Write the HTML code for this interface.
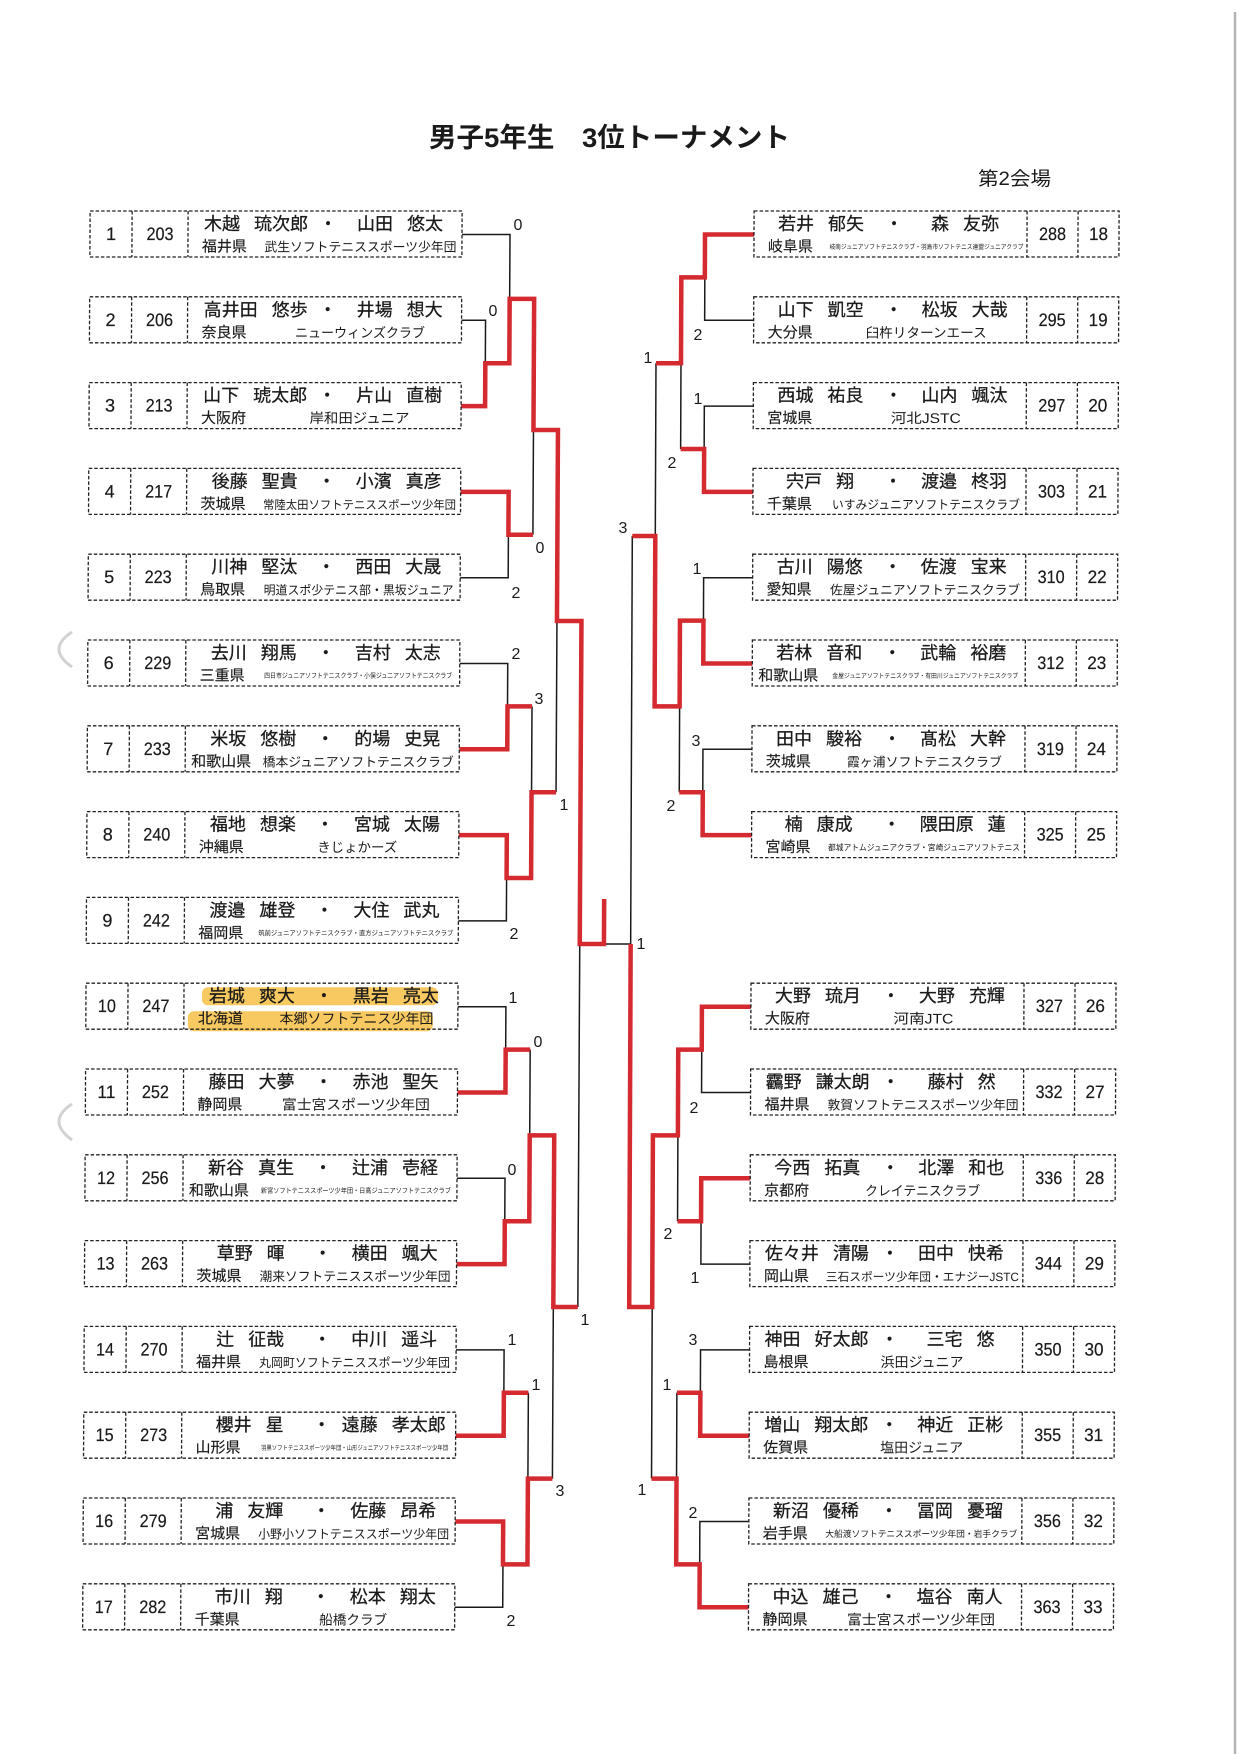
<!DOCTYPE html>
<html><head><meta charset="utf-8">
<style>
html,body{margin:0;padding:0;background:#fff}
svg{display:block}
.bx{fill:none;stroke:#222;stroke-width:1.3;stroke-dasharray:3.5 2}
.k{fill:none;stroke:#1a1a1a;stroke-width:1.5}
.r{fill:none;stroke:#d42a30;stroke-width:4.5;stroke-linejoin:miter}
.n{font-family:"Liberation Sans",sans-serif;font-size:18px;fill:#1a1a1a;text-anchor:middle;stroke:#1a1a1a;stroke-width:0.2}
.nm{font-family:"Liberation Sans","Noto Sans CJK JP",sans-serif;font-size:18px;fill:#1a1a1a;text-anchor:middle;stroke:#1a1a1a;stroke-width:0.25}
.g{font-size:14px}
.pf{font-family:"Liberation Sans","Noto Sans CJK JP",sans-serif;font-size:15px;fill:#1a1a1a;stroke:#1a1a1a;stroke-width:0.15}
.cl{font-family:"Liberation Sans","Noto Sans CJK JP",sans-serif;fill:#1a1a1a;text-anchor:middle}
.sc{font-family:"Liberation Sans",sans-serif;font-size:16px;fill:#1a1a1a;text-anchor:middle}
.ttl{font-family:"Liberation Sans","Noto Sans CJK JP",sans-serif;font-weight:bold;font-size:27px;fill:#1a1a1a}
.sub{font-family:"Liberation Sans","Noto Sans CJK JP",sans-serif;font-size:19px;fill:#1a1a1a}
</style></head>
<body>
<svg xmlns="http://www.w3.org/2000/svg" width="1240" height="1754" viewBox="0 0 1240 1754">
<rect x="0" y="0" width="1240" height="1754" fill="#fff"/>
<line x1="1235" y1="12" x2="1235" y2="1754" stroke="#b4b4b4" stroke-width="2.5"/>
<path d="M72 632 Q46 649 72 667" fill="none" stroke="#d2d2d2" stroke-width="3"/>
<path d="M72 1104 Q46 1121 72 1140" fill="none" stroke="#d2d2d2" stroke-width="3"/>

<text class="ttl" x="429" y="147" textLength="361" lengthAdjust="spacingAndGlyphs">男子5年生　3位トーナメント</text>
<text class="sub" x="978" y="185" textLength="73" lengthAdjust="spacingAndGlyphs">第2会場</text>

<!-- LEFT GROUP -->
<g transform="matrix(1,0,-0.0053,1,1.2455,0)">
<path class="k" d="M462 234.5H510V298.9"/>
<path class="k" d="M462 320.3H486V363.2"/>
<path class="k" d="M534.5 430V534.8"/>
<path class="k" d="M462 577.7H510V534.8"/>
<path class="k" d="M559 621V792.2"/>
<path class="k" d="M462 663.5H510V706.4"/>
<path class="k" d="M534.5 706.4V792.2"/>
<path class="k" d="M462 920.9H510V878"/>
<path class="k" d="M583.5 944V1307"/>
<path class="k" d="M607.7 944H634.5"/>
<path class="k" d="M462 1006.7H510V1049.6"/>
<path class="k" d="M534.5 1049.6V1135.4"/>
<path class="k" d="M462 1178.3H510V1221.2"/>
<path class="k" d="M559 1307V1478.6"/>
<path class="k" d="M462 1349.9H510V1392.8"/>
<path class="k" d="M534.5 1392.8V1478.6"/>
<path class="k" d="M462 1607.3H510V1564.4"/>
<path class="r" d="M462 406.1H486V363.2H510V298.9H534.5V430H559V621H583.5V944H607.7V899"/>
<path class="r" d="M462 491.9H510V534.8H534.5"/>
<path class="r" d="M462 749.3H510V706.4H534.5"/>
<path class="r" d="M462 835.1H510V878H534.5V792.2H559"/>
<path class="r" d="M462 1092.5H510V1049.6H534.5"/>
<path class="r" d="M462 1264.1H510V1221.2H534.5V1135.4H559V1307H583.5"/>
<path class="r" d="M462 1435.7H510V1392.8H534.5"/>
<path class="r" d="M462 1521.5H510V1564.4H534.5V1478.6H559"/>

<g transform="translate(0,211)">
<rect class="bx" x="90" y="0" width="372" height="46"/><path class="bx" d="M132 0V46M188 0V46"/>
<text class="n" x="111" y="29">1</text><text class="n" x="160" y="29" textLength="27" lengthAdjust="spacingAndGlyphs">203</text>
<text class="nm" x="256" y="19">木越<tspan class="g">　</tspan>琉次郎</text><text class="nm" x="328" y="19">・</text><text class="nm" x="400" y="19">山田<tspan class="g">　</tspan>悠太</text>
<text class="pf" x="202" y="40.5">福井県</text><text class="cl" x="360.5" y="40.5" font-size="13" textLength="192" lengthAdjust="spacingAndGlyphs">武生ソフトテニススポーツ少年団</text>
</g>
<g transform="translate(0,296.8)">
<rect class="bx" x="90" y="0" width="372" height="46"/><path class="bx" d="M132 0V46M188 0V46"/>
<text class="n" x="111" y="29">2</text><text class="n" x="160" y="29" textLength="27" lengthAdjust="spacingAndGlyphs">206</text>
<text class="nm" x="256" y="19">高井田<tspan class="g">　</tspan>悠歩</text><text class="nm" x="328" y="19">・</text><text class="nm" x="400" y="19">井場<tspan class="g">　</tspan>想大</text>
<text class="pf" x="202" y="40.5">奈良県</text><text class="cl" x="360.5" y="40.5" font-size="13.5" textLength="130" lengthAdjust="spacingAndGlyphs">ニューウィンズクラブ</text>
</g>
<g transform="translate(0,382.6)">
<rect class="bx" x="90" y="0" width="372" height="46"/><path class="bx" d="M132 0V46M188 0V46"/>
<text class="n" x="111" y="29">3</text><text class="n" x="160" y="29" textLength="27" lengthAdjust="spacingAndGlyphs">213</text>
<text class="nm" x="256" y="19">山下<tspan class="g">　</tspan>琥太郎</text><text class="nm" x="328" y="19">・</text><text class="nm" x="400" y="19">片山<tspan class="g">　</tspan>直樹</text>
<text class="pf" x="202" y="40.5">大阪府</text><text class="cl" x="360.5" y="40.5" font-size="14" textLength="100" lengthAdjust="spacingAndGlyphs">岸和田ジュニア</text>
</g>
<g transform="translate(0,468.4)">
<rect class="bx" x="90" y="0" width="372" height="46"/><path class="bx" d="M132 0V46M188 0V46"/>
<text class="n" x="111" y="29">4</text><text class="n" x="160" y="29" textLength="27" lengthAdjust="spacingAndGlyphs">217</text>
<text class="nm" x="256" y="19">後藤<tspan class="g">　</tspan>聖貴</text><text class="nm" x="328" y="19">・</text><text class="nm" x="400" y="19">小濱<tspan class="g">　</tspan>真彦</text>
<text class="pf" x="202" y="40.5">茨城県</text><text class="cl" x="361" y="40.5" font-size="12" textLength="193" lengthAdjust="spacingAndGlyphs">常陸太田ソフトテニススポーツ少年団</text>
</g>
<g transform="translate(0,554.2)">
<rect class="bx" x="90" y="0" width="372" height="46"/><path class="bx" d="M132 0V46M188 0V46"/>
<text class="n" x="111" y="29">5</text><text class="n" x="160" y="29" textLength="27" lengthAdjust="spacingAndGlyphs">223</text>
<text class="nm" x="256" y="19">川神<tspan class="g">　</tspan>堅汰</text><text class="nm" x="328" y="19">・</text><text class="nm" x="400" y="19">西田<tspan class="g">　</tspan>大晟</text>
<text class="pf" x="202" y="40.5">鳥取県</text><text class="cl" x="360.5" y="40.5" font-size="12.5" textLength="190" lengthAdjust="spacingAndGlyphs">明道スポ少テニス部・黒坂ジュニア</text>
</g>
<g transform="translate(0,640)">
<rect class="bx" x="90" y="0" width="372" height="46"/><path class="bx" d="M132 0V46M188 0V46"/>
<text class="n" x="111" y="29">6</text><text class="n" x="160" y="29" textLength="27" lengthAdjust="spacingAndGlyphs">229</text>
<text class="nm" x="256" y="19">去川<tspan class="g">　</tspan>翔馬</text><text class="nm" x="328" y="19">・</text><text class="nm" x="400" y="19">吉村<tspan class="g">　</tspan>太志</text>
<text class="pf" x="202" y="40.5">三重県</text><text class="cl" x="360.5" y="38" font-size="7" textLength="188" lengthAdjust="spacingAndGlyphs">四日市ジュニアソフトテニスクラブ・小俣ジュニアソフトテニスクラブ</text>
</g>
<g transform="translate(0,725.8)">
<rect class="bx" x="90" y="0" width="372" height="46"/><path class="bx" d="M132 0V46M188 0V46"/>
<text class="n" x="111" y="29">7</text><text class="n" x="160" y="29" textLength="27" lengthAdjust="spacingAndGlyphs">233</text>
<text class="nm" x="256" y="19">米坂<tspan class="g">　</tspan>悠樹</text><text class="nm" x="328" y="19">・</text><text class="nm" x="400" y="19">的場<tspan class="g">　</tspan>史晃</text>
<text class="pf" x="194" y="40.5">和歌山県</text><text class="cl" x="361" y="40.5" font-size="13" textLength="191" lengthAdjust="spacingAndGlyphs">橋本ジュニアソフトテニスクラブ</text>
</g>
<g transform="translate(0,811.6)">
<rect class="bx" x="90" y="0" width="372" height="46"/><path class="bx" d="M132 0V46M188 0V46"/>
<text class="n" x="111" y="29">8</text><text class="n" x="160" y="29" textLength="27" lengthAdjust="spacingAndGlyphs">240</text>
<text class="nm" x="256" y="19">福地<tspan class="g">　</tspan>想楽</text><text class="nm" x="328" y="19">・</text><text class="nm" x="400" y="19">宮城<tspan class="g">　</tspan>太陽</text>
<text class="pf" x="202" y="40.5">沖縄県</text><text class="cl" x="360.5" y="40.5" font-size="13.5" textLength="80" lengthAdjust="spacingAndGlyphs">きじょかーズ</text>
</g>
<g transform="translate(0,897.4)">
<rect class="bx" x="90" y="0" width="372" height="46"/><path class="bx" d="M132 0V46M188 0V46"/>
<text class="n" x="111" y="29">9</text><text class="n" x="160" y="29" textLength="27" lengthAdjust="spacingAndGlyphs">242</text>
<text class="nm" x="256" y="19">渡邉<tspan class="g">　</tspan>雄登</text><text class="nm" x="328" y="19">・</text><text class="nm" x="400" y="19">大住<tspan class="g">　</tspan>武丸</text>
<text class="pf" x="202" y="40.5">福岡県</text><text class="cl" x="359.5" y="38" font-size="7" textLength="195" lengthAdjust="spacingAndGlyphs">筑前ジュニアソフトテニスクラブ・直方ジュニアソフトテニスクラブ</text>
</g>
<g transform="translate(0,983.2)">
<rect x="206" y="4" width="236" height="18" rx="6" fill="#f6c453" opacity="0.92"/>
<rect x="192" y="28" width="245" height="20" rx="6" fill="#f6c453" opacity="0.92"/>
<rect class="bx" x="90" y="0" width="372" height="46"/><path class="bx" d="M132 0V46M188 0V46"/>
<text class="n" x="111" y="29" textLength="18" lengthAdjust="spacingAndGlyphs">10</text><text class="n" x="160" y="29" textLength="27" lengthAdjust="spacingAndGlyphs">247</text>
<text class="nm" x="256" y="19">岩城<tspan class="g">　</tspan>爽大</text><text class="nm" x="328" y="19">・</text><text class="nm" x="400" y="19">黒岩<tspan class="g">　</tspan>亮太</text>
<text class="pf" x="202" y="40.5">北海道</text><text class="cl" x="360.5" y="40.5" font-size="14" textLength="154" lengthAdjust="spacingAndGlyphs">本郷ソフトテニス少年団</text>
</g>
<g transform="translate(0,1069)">
<rect class="bx" x="90" y="0" width="372" height="46"/><path class="bx" d="M132 0V46M188 0V46"/>
<text class="n" x="111" y="29" textLength="18" lengthAdjust="spacingAndGlyphs">11</text><text class="n" x="160" y="29" textLength="27" lengthAdjust="spacingAndGlyphs">252</text>
<text class="nm" x="256" y="19">藤田<tspan class="g">　</tspan>大夢</text><text class="nm" x="328" y="19">・</text><text class="nm" x="400" y="19">赤池<tspan class="g">　</tspan>聖矢</text>
<text class="pf" x="202" y="40.5">静岡県</text><text class="cl" x="360.5" y="40.5" font-size="14" textLength="148" lengthAdjust="spacingAndGlyphs">富士宮スポーツ少年団</text>
</g>
<g transform="translate(0,1154.8)">
<rect class="bx" x="90" y="0" width="372" height="46"/><path class="bx" d="M132 0V46M188 0V46"/>
<text class="n" x="111" y="29" textLength="18" lengthAdjust="spacingAndGlyphs">12</text><text class="n" x="160" y="29" textLength="27" lengthAdjust="spacingAndGlyphs">256</text>
<text class="nm" x="256" y="19">新谷<tspan class="g">　</tspan>真生</text><text class="nm" x="328" y="19">・</text><text class="nm" x="400" y="19">辻浦<tspan class="g">　</tspan>壱経</text>
<text class="pf" x="194" y="40.5">和歌山県</text><text class="cl" x="361" y="38" font-size="7" textLength="190" lengthAdjust="spacingAndGlyphs">新宮ソフトテニススポーツ少年団・日高ジュニアソフトテニスクラブ</text>
</g>
<g transform="translate(0,1240.6)">
<rect class="bx" x="90" y="0" width="372" height="46"/><path class="bx" d="M132 0V46M188 0V46"/>
<text class="n" x="111" y="29" textLength="18" lengthAdjust="spacingAndGlyphs">13</text><text class="n" x="160" y="29" textLength="27" lengthAdjust="spacingAndGlyphs">263</text>
<text class="nm" x="256" y="19">草野<tspan class="g">　</tspan>暉</text><text class="nm" x="328" y="19">・</text><text class="nm" x="400" y="19">横田<tspan class="g">　</tspan>颯大</text>
<text class="pf" x="202" y="40.5">茨城県</text><text class="cl" x="360.5" y="40.5" font-size="13" textLength="191" lengthAdjust="spacingAndGlyphs">潮来ソフトテニススポーツ少年団</text>
</g>
<g transform="translate(0,1326.4)">
<rect class="bx" x="90" y="0" width="372" height="46"/><path class="bx" d="M132 0V46M188 0V46"/>
<text class="n" x="111" y="29" textLength="18" lengthAdjust="spacingAndGlyphs">14</text><text class="n" x="160" y="29" textLength="27" lengthAdjust="spacingAndGlyphs">270</text>
<text class="nm" x="256" y="19">辻<tspan class="g">　</tspan>征哉</text><text class="nm" x="328" y="19">・</text><text class="nm" x="400" y="19">中川<tspan class="g">　</tspan>遥斗</text>
<text class="pf" x="202" y="40.5">福井県</text><text class="cl" x="360.5" y="40.5" font-size="12.5" textLength="191" lengthAdjust="spacingAndGlyphs">丸岡町ソフトテニススポーツ少年団</text>
</g>
<g transform="translate(0,1412.2)">
<rect class="bx" x="90" y="0" width="372" height="46"/><path class="bx" d="M132 0V46M188 0V46"/>
<text class="n" x="111" y="29" textLength="18" lengthAdjust="spacingAndGlyphs">15</text><text class="n" x="160" y="29" textLength="27" lengthAdjust="spacingAndGlyphs">273</text>
<text class="nm" x="256" y="19">櫻井<tspan class="g">　</tspan>星</text><text class="nm" x="328" y="19">・</text><text class="nm" x="400" y="19">遠藤<tspan class="g">　</tspan>孝太郎</text>
<text class="pf" x="202" y="40.5">山形県</text><text class="cl" x="361" y="38" font-size="6.5" textLength="187" lengthAdjust="spacingAndGlyphs">羽黒ソフトテニススポーツ少年団・山形ジュニアソフトテニススポーツ少年団</text>
</g>
<g transform="translate(0,1498)">
<rect class="bx" x="90" y="0" width="372" height="46"/><path class="bx" d="M132 0V46M188 0V46"/>
<text class="n" x="111" y="29" textLength="18" lengthAdjust="spacingAndGlyphs">16</text><text class="n" x="160" y="29" textLength="27" lengthAdjust="spacingAndGlyphs">279</text>
<text class="nm" x="256" y="19">浦<tspan class="g">　</tspan>友輝</text><text class="nm" x="328" y="19">・</text><text class="nm" x="400" y="19">佐藤<tspan class="g">　</tspan>昂希</text>
<text class="pf" x="202" y="40.5">宮城県</text><text class="cl" x="360.5" y="40.5" font-size="12.5" textLength="191" lengthAdjust="spacingAndGlyphs">小野小ソフトテニススポーツ少年団</text>
</g>
<g transform="translate(0,1583.8)">
<rect class="bx" x="90" y="0" width="372" height="46"/><path class="bx" d="M132 0V46M188 0V46"/>
<text class="n" x="111" y="29" textLength="18" lengthAdjust="spacingAndGlyphs">17</text><text class="n" x="160" y="29" textLength="27" lengthAdjust="spacingAndGlyphs">282</text>
<text class="nm" x="256" y="19">市川<tspan class="g">　</tspan>翔</text><text class="nm" x="328" y="19">・</text><text class="nm" x="400" y="19">松本<tspan class="g">　</tspan>翔太</text>
<text class="pf" x="202" y="40.5">千葉県</text><text class="cl" x="360.5" y="40.5" font-size="13.5" textLength="68" lengthAdjust="spacingAndGlyphs">船橋クラブ</text>
</g>
</g>

<!-- RIGHT GROUP -->
<g transform="matrix(1,0,-0.004,1,0.94,0)">
<path class="k" d="M754 320.3H705V277.4"/>
<path class="k" d="M754 406.1H705V449"/>
<path class="k" d="M681.5 363.2V449"/>
<path class="k" d="M656.5 363.2V536"/>
<path class="k" d="M754 577.7H705V620.6"/>
<path class="k" d="M681.5 706.4V792.2"/>
<path class="k" d="M754 749.3H705V792.2"/>
<path class="k" d="M633.5 536V944"/>
<path class="k" d="M754 1092.5H705V1049.6"/>
<path class="k" d="M681.5 1135.4V1221.2"/>
<path class="k" d="M754 1264.1H705V1221.2"/>
<path class="k" d="M656.5 1307V1478.6"/>
<path class="k" d="M754 1349.9H705V1392.8"/>
<path class="k" d="M681.5 1392.8V1478.6"/>
<path class="k" d="M754 1521.5H705V1564.4"/>

<path class="r" d="M754 234.5H705V277.4H681.5V363.2H656.5"/>
<path class="r" d="M754 491.9H705V449H681.5"/>
<path class="r" d="M754 663.5H705V620.6H681.5V706.4H656.5V536H633.5"/>
<path class="r" d="M754 835.1H705V792.2H681.5"/>
<path class="r" d="M754 1006.7H705V1049.6H681.5V1135.4H656.5V1307H633.5V944"/>
<path class="r" d="M754 1178.3H705V1221.2H681.5"/>
<path class="r" d="M754 1435.7H705V1392.8H681.5"/>
<path class="r" d="M754 1607.3H705V1564.4H681.5V1478.6H656.5"/>

<g transform="translate(0,211)">
<rect class="bx" x="754" y="0" width="365" height="46"/><path class="bx" d="M1027 0V46M1078 0V46"/>
<text class="nm" x="821" y="19">若井<tspan class="g">　</tspan>郁矢</text><text class="nm" x="894" y="19">・</text><text class="nm" x="965" y="19">森<tspan class="g">　</tspan>友弥</text>
<text class="pf" x="768" y="40.5">岐阜県</text><text class="cl" x="926.5" y="38" font-size="6.5" textLength="194" lengthAdjust="spacingAndGlyphs">岐南ジュニアソフトテニスクラブ・羽島市ソフトテニス連盟ジュニアクラブ</text>
<text class="n" x="1052.5" y="29" textLength="27" lengthAdjust="spacingAndGlyphs">288</text><text class="n" x="1098.5" y="29" textLength="19" lengthAdjust="spacingAndGlyphs">18</text>
</g>
<g transform="translate(0,296.8)">
<rect class="bx" x="754" y="0" width="365" height="46"/><path class="bx" d="M1027 0V46M1078 0V46"/>
<text class="nm" x="821" y="19">山下<tspan class="g">　</tspan>凱空</text><text class="nm" x="894" y="19">・</text><text class="nm" x="965" y="19">松坂<tspan class="g">　</tspan>大哉</text>
<text class="pf" x="768" y="40.5">大分県</text><text class="cl" x="926.5" y="40.5" font-size="13.5" textLength="121" lengthAdjust="spacingAndGlyphs">臼杵リターンエース</text>
<text class="n" x="1052.5" y="29" textLength="27" lengthAdjust="spacingAndGlyphs">295</text><text class="n" x="1098.5" y="29" textLength="19" lengthAdjust="spacingAndGlyphs">19</text>
</g>
<g transform="translate(0,382.6)">
<rect class="bx" x="754" y="0" width="365" height="46"/><path class="bx" d="M1027 0V46M1078 0V46"/>
<text class="nm" x="821" y="19">西城<tspan class="g">　</tspan>祐良</text><text class="nm" x="894" y="19">・</text><text class="nm" x="965" y="19">山内<tspan class="g">　</tspan>颯汰</text>
<text class="pf" x="768" y="40.5">宮城県</text><text class="cl" x="926.5" y="40.5" font-size="14" textLength="70" lengthAdjust="spacingAndGlyphs">河北JSTC</text>
<text class="n" x="1052.5" y="29" textLength="27" lengthAdjust="spacingAndGlyphs">297</text><text class="n" x="1098.5" y="29" textLength="19" lengthAdjust="spacingAndGlyphs">20</text>
</g>
<g transform="translate(0,468.4)">
<rect class="bx" x="754" y="0" width="365" height="46"/><path class="bx" d="M1027 0V46M1078 0V46"/>
<text class="nm" x="821" y="19">宍戸<tspan class="g">　</tspan>翔</text><text class="nm" x="894" y="19">・</text><text class="nm" x="965" y="19">渡邉<tspan class="g">　</tspan>柊羽</text>
<text class="pf" x="768" y="40.5">千葉県</text><text class="cl" x="927" y="40.5" font-size="12.5" textLength="188" lengthAdjust="spacingAndGlyphs">いすみジュニアソフトテニスクラブ</text>
<text class="n" x="1052.5" y="29" textLength="27" lengthAdjust="spacingAndGlyphs">303</text><text class="n" x="1098.5" y="29" textLength="19" lengthAdjust="spacingAndGlyphs">21</text>
</g>
<g transform="translate(0,554.2)">
<rect class="bx" x="754" y="0" width="365" height="46"/><path class="bx" d="M1027 0V46M1078 0V46"/>
<text class="nm" x="821" y="19">古川<tspan class="g">　</tspan>陽悠</text><text class="nm" x="894" y="19">・</text><text class="nm" x="965" y="19">佐渡<tspan class="g">　</tspan>宝来</text>
<text class="pf" x="768" y="40.5">愛知県</text><text class="cl" x="926.5" y="40.5" font-size="13" textLength="190" lengthAdjust="spacingAndGlyphs">佐屋ジュニアソフトテニスクラブ</text>
<text class="n" x="1052.5" y="29" textLength="27" lengthAdjust="spacingAndGlyphs">310</text><text class="n" x="1098.5" y="29" textLength="19" lengthAdjust="spacingAndGlyphs">22</text>
</g>
<g transform="translate(0,640)">
<rect class="bx" x="754" y="0" width="365" height="46"/><path class="bx" d="M1027 0V46M1078 0V46"/>
<text class="nm" x="821" y="19">若林<tspan class="g">　</tspan>音和</text><text class="nm" x="894" y="19">・</text><text class="nm" x="965" y="19">武輪<tspan class="g">　</tspan>裕磨</text>
<text class="pf" x="760" y="40.5">和歌山県</text><text class="cl" x="927" y="38" font-size="6.5" textLength="186" lengthAdjust="spacingAndGlyphs">金屋ジュニアソフトテニスクラブ・有田川ジュニアソフトテニスクラブ</text>
<text class="n" x="1052.5" y="29" textLength="27" lengthAdjust="spacingAndGlyphs">312</text><text class="n" x="1098.5" y="29" textLength="19" lengthAdjust="spacingAndGlyphs">23</text>
</g>
<g transform="translate(0,725.8)">
<rect class="bx" x="754" y="0" width="365" height="46"/><path class="bx" d="M1027 0V46M1078 0V46"/>
<text class="nm" x="821" y="19">田中<tspan class="g">　</tspan>駿裕</text><text class="nm" x="894" y="19">・</text><text class="nm" x="965" y="19">髙松<tspan class="g">　</tspan>大幹</text>
<text class="pf" x="768" y="40.5">茨城県</text><text class="cl" x="926.5" y="40.5" font-size="13" textLength="155" lengthAdjust="spacingAndGlyphs">霞ヶ浦ソフトテニスクラブ</text>
<text class="n" x="1052.5" y="29" textLength="27" lengthAdjust="spacingAndGlyphs">319</text><text class="n" x="1098.5" y="29" textLength="19" lengthAdjust="spacingAndGlyphs">24</text>
</g>
<g transform="translate(0,811.6)">
<rect class="bx" x="754" y="0" width="365" height="46"/><path class="bx" d="M1027 0V46M1078 0V46"/>
<text class="nm" x="821" y="19">楠<tspan class="g">　</tspan>康成</text><text class="nm" x="894" y="19">・</text><text class="nm" x="965" y="19">隈田原<tspan class="g">　</tspan>蓮</text>
<text class="pf" x="768" y="40.5">宮崎県</text><text class="cl" x="926.5" y="39" font-size="8.5" textLength="192" lengthAdjust="spacingAndGlyphs">都城アトムジュニアクラブ・宮崎ジュニアソフトテニス</text>
<text class="n" x="1052.5" y="29" textLength="27" lengthAdjust="spacingAndGlyphs">325</text><text class="n" x="1098.5" y="29" textLength="19" lengthAdjust="spacingAndGlyphs">25</text>
</g>
<g transform="translate(0,983.2)">
<rect class="bx" x="754" y="0" width="365" height="46"/><path class="bx" d="M1027 0V46M1078 0V46"/>
<text class="nm" x="821" y="19">大野<tspan class="g">　</tspan>琉月</text><text class="nm" x="894" y="19">・</text><text class="nm" x="965" y="19">大野<tspan class="g">　</tspan>充輝</text>
<text class="pf" x="768" y="40.5">大阪府</text><text class="cl" x="926.5" y="40.5" font-size="14" textLength="60" lengthAdjust="spacingAndGlyphs">河南JTC</text>
<text class="n" x="1052.5" y="29" textLength="27" lengthAdjust="spacingAndGlyphs">327</text><text class="n" x="1098.5" y="29" textLength="19" lengthAdjust="spacingAndGlyphs">26</text>
</g>
<g transform="translate(0,1069)">
<rect class="bx" x="754" y="0" width="365" height="46"/><path class="bx" d="M1027 0V46M1078 0V46"/>
<text class="nm" x="821" y="19">靏野<tspan class="g">　</tspan>謙太朗</text><text class="nm" x="894" y="19">・</text><text class="nm" x="965" y="19">藤村<tspan class="g">　</tspan>然</text>
<text class="pf" x="768" y="40.5">福井県</text><text class="cl" x="926.5" y="40.5" font-size="13" textLength="191" lengthAdjust="spacingAndGlyphs">敦賀ソフトテニススポーツ少年団</text>
<text class="n" x="1052.5" y="29" textLength="27" lengthAdjust="spacingAndGlyphs">332</text><text class="n" x="1098.5" y="29" textLength="19" lengthAdjust="spacingAndGlyphs">27</text>
</g>
<g transform="translate(0,1154.8)">
<rect class="bx" x="754" y="0" width="365" height="46"/><path class="bx" d="M1027 0V46M1078 0V46"/>
<text class="nm" x="821" y="19">今西<tspan class="g">　</tspan>拓真</text><text class="nm" x="894" y="19">・</text><text class="nm" x="965" y="19">北澤<tspan class="g">　</tspan>和也</text>
<text class="pf" x="768" y="40.5">京都府</text><text class="cl" x="926.5" y="40.5" font-size="13.5" textLength="115" lengthAdjust="spacingAndGlyphs">クレイテニスクラブ</text>
<text class="n" x="1052.5" y="29" textLength="27" lengthAdjust="spacingAndGlyphs">336</text><text class="n" x="1098.5" y="29" textLength="19" lengthAdjust="spacingAndGlyphs">28</text>
</g>
<g transform="translate(0,1240.6)">
<rect class="bx" x="754" y="0" width="365" height="46"/><path class="bx" d="M1027 0V46M1078 0V46"/>
<text class="nm" x="821" y="19">佐々井<tspan class="g">　</tspan>清陽</text><text class="nm" x="894" y="19">・</text><text class="nm" x="965" y="19">田中<tspan class="g">　</tspan>快希</text>
<text class="pf" x="768" y="40.5">岡山県</text><text class="cl" x="926.5" y="40.5" font-size="12" textLength="193" lengthAdjust="spacingAndGlyphs">三石スポーツ少年団・エナジーJSTC</text>
<text class="n" x="1052.5" y="29" textLength="27" lengthAdjust="spacingAndGlyphs">344</text><text class="n" x="1098.5" y="29" textLength="19" lengthAdjust="spacingAndGlyphs">29</text>
</g>
<g transform="translate(0,1326.4)">
<rect class="bx" x="754" y="0" width="365" height="46"/><path class="bx" d="M1027 0V46M1078 0V46"/>
<text class="nm" x="821" y="19">神田<tspan class="g">　</tspan>好太郎</text><text class="nm" x="894" y="19">・</text><text class="nm" x="965" y="19">三宅<tspan class="g">　</tspan>悠</text>
<text class="pf" x="768" y="40.5">島根県</text><text class="cl" x="926.5" y="40.5" font-size="14" textLength="83" lengthAdjust="spacingAndGlyphs">浜田ジュニア</text>
<text class="n" x="1052.5" y="29" textLength="27" lengthAdjust="spacingAndGlyphs">350</text><text class="n" x="1098.5" y="29" textLength="19" lengthAdjust="spacingAndGlyphs">30</text>
</g>
<g transform="translate(0,1412.2)">
<rect class="bx" x="754" y="0" width="365" height="46"/><path class="bx" d="M1027 0V46M1078 0V46"/>
<text class="nm" x="821" y="19">増山<tspan class="g">　</tspan>翔太郎</text><text class="nm" x="894" y="19">・</text><text class="nm" x="965" y="19">神近<tspan class="g">　</tspan>正彬</text>
<text class="pf" x="768" y="40.5">佐賀県</text><text class="cl" x="926.5" y="40.5" font-size="14" textLength="83" lengthAdjust="spacingAndGlyphs">塩田ジュニア</text>
<text class="n" x="1052.5" y="29" textLength="27" lengthAdjust="spacingAndGlyphs">355</text><text class="n" x="1098.5" y="29" textLength="19" lengthAdjust="spacingAndGlyphs">31</text>
</g>
<g transform="translate(0,1498)">
<rect class="bx" x="754" y="0" width="365" height="46"/><path class="bx" d="M1027 0V46M1078 0V46"/>
<text class="nm" x="821" y="19">新沼<tspan class="g">　</tspan>優稀</text><text class="nm" x="894" y="19">・</text><text class="nm" x="965" y="19">冨岡<tspan class="g">　</tspan>憂瑠</text>
<text class="pf" x="768" y="40.5">岩手県</text><text class="cl" x="926.5" y="39" font-size="9" textLength="192" lengthAdjust="spacingAndGlyphs">大船渡ソフトテニススポーツ少年団・岩手クラブ</text>
<text class="n" x="1052.5" y="29" textLength="27" lengthAdjust="spacingAndGlyphs">356</text><text class="n" x="1098.5" y="29" textLength="19" lengthAdjust="spacingAndGlyphs">32</text>
</g>
<g transform="translate(0,1583.8)">
<rect class="bx" x="754" y="0" width="365" height="46"/><path class="bx" d="M1027 0V46M1078 0V46"/>
<text class="nm" x="821" y="19">中込<tspan class="g">　</tspan>雄己</text><text class="nm" x="894" y="19">・</text><text class="nm" x="965" y="19">塩谷<tspan class="g">　</tspan>南人</text>
<text class="pf" x="768" y="40.5">静岡県</text><text class="cl" x="926.5" y="40.5" font-size="14" textLength="148" lengthAdjust="spacingAndGlyphs">富士宮スポーツ少年団</text>
<text class="n" x="1052.5" y="29" textLength="27" lengthAdjust="spacingAndGlyphs">363</text><text class="n" x="1098.5" y="29" textLength="19" lengthAdjust="spacingAndGlyphs">33</text>
</g>
</g>

<text class="sc" x="518" y="230">0</text>
<text class="sc" x="493" y="316">0</text>
<text class="sc" x="540" y="553">0</text>
<text class="sc" x="516" y="598">2</text>
<text class="sc" x="516" y="659">2</text>
<text class="sc" x="539" y="704">3</text>
<text class="sc" x="564" y="810">1</text>
<text class="sc" x="514" y="939">2</text>
<text class="sc" x="513" y="1003">1</text>
<text class="sc" x="538" y="1047">0</text>
<text class="sc" x="512" y="1175">0</text>
<text class="sc" x="585" y="1325">1</text>
<text class="sc" x="512" y="1345">1</text>
<text class="sc" x="536" y="1390">1</text>
<text class="sc" x="560" y="1496">3</text>
<text class="sc" x="511" y="1626">2</text>
<text class="sc" x="641" y="949">1</text>
<text class="sc" x="698" y="340">2</text>
<text class="sc" x="648" y="363">1</text>
<text class="sc" x="698" y="404">1</text>
<text class="sc" x="672" y="468">2</text>
<text class="sc" x="623" y="533">3</text>
<text class="sc" x="697" y="574">1</text>
<text class="sc" x="696" y="746">3</text>
<text class="sc" x="671" y="811">2</text>
<text class="sc" x="694" y="1113">2</text>
<text class="sc" x="668" y="1239">2</text>
<text class="sc" x="695" y="1283">1</text>
<text class="sc" x="693" y="1345">3</text>
<text class="sc" x="667" y="1390">1</text>
<text class="sc" x="642" y="1495">1</text>
<text class="sc" x="693" y="1518">2</text>
</svg>
</body></html>
